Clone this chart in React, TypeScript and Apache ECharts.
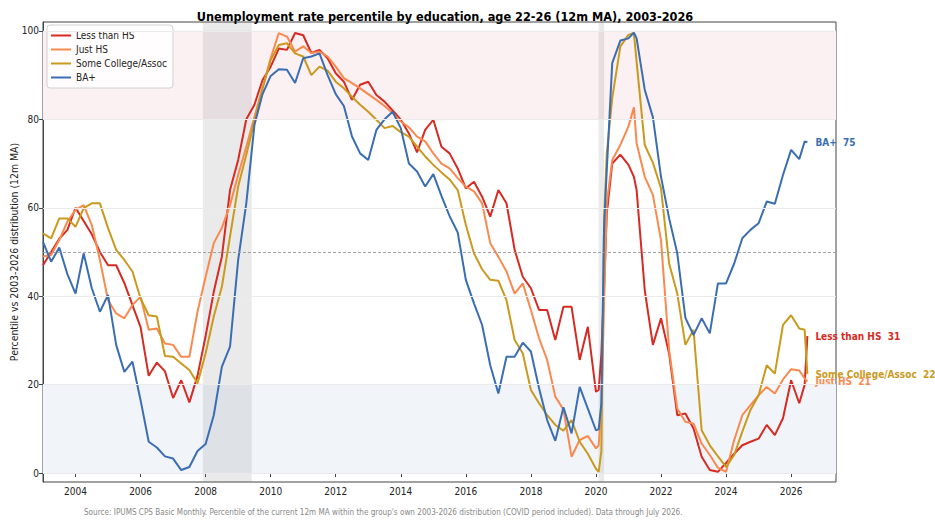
import React, { useEffect, useRef } from "react";
import * as echarts from "echarts";

// ---- data ----
const dates = [
  "2003-01","2003-04","2003-07","2003-10",
  "2004-01","2004-04","2004-07","2004-10",
  "2005-01","2005-04","2005-07","2005-10",
  "2006-01","2006-04","2006-07","2006-10",
  "2007-01","2007-04","2007-07","2007-10",
  "2008-01","2008-04","2008-07","2008-10",
  "2009-01","2009-04","2009-07","2009-10",
  "2010-01","2010-04","2010-07","2010-10",
  "2011-01","2011-04","2011-07","2011-10",
  "2012-01","2012-04","2012-07","2012-10",
  "2013-01","2013-04","2013-07","2013-10",
  "2014-01","2014-04","2014-07","2014-10",
  "2015-01","2015-04","2015-07","2015-10",
  "2016-01","2016-04","2016-07","2016-10",
  "2017-01","2017-04","2017-07","2017-10",
  "2018-01","2018-04","2018-07","2018-10",
  "2019-01","2019-04","2019-07","2019-10",
  "2020-01","2020-02","2020-03","2020-04","2020-05","2020-07","2020-10",
  "2021-01","2021-03","2021-04","2021-07","2021-10",
  "2022-01","2022-04","2022-07","2022-10",
  "2023-01","2023-04","2023-07","2023-10",
  "2024-01","2024-04","2024-07","2024-10",
  "2025-01","2025-04","2025-07","2025-10",
  "2026-01","2026-04","2026-06","2026-07",
];

const lessThanHS = [
  47, 50, 53, 55,
  60, 57, 54, 50,
  47, 47, 43, 38,
  33, 22, 25, 23,
  17, 21, 16, 22,
  31, 41, 49, 64,
  70.8, 80, 83.3, 88.9,
  91.9, 96, 95.7, 99.5,
  99, 95, 95.7, 93.8,
  90.4, 88.5, 84.4, 87.8,
  88.5, 85.5, 84, 82,
  79.9, 76.8, 72.5, 77.6,
  79.9, 73.8, 72.3, 68.9,
  64.4, 65.9, 62.5, 58,
  64, 61, 50.5, 44.4,
  41.8, 36.9, 36.9, 30.1,
  37.6, 37.6, 25.6, 33.1,
  18.4, 18.8, 27, 42, 58.7, 70, 72,
  69.7, 67, 64, 41.4, 29,
  35, 27, 13.1, 13.5,
  10.1, 3.7, 0.7, 0.3,
  2.3, 4.4, 6.3, 7.1,
  7.8, 10.9, 8.6, 12.4,
  21, 15.8, 20, 31,
];

const justHS = [
  49, 49.3, 52.7, 56.9,
  59.5, 60.6, 56.1, 48.2,
  39.1, 36.1, 35, 38,
  39.9, 32.4, 32.7, 29.3,
  29, 26.3, 26.3, 36.5,
  44.4, 52, 55.5, 60.6,
  67.4, 73.8, 80.6, 87,
  93.8, 99.5, 98.7, 95.3,
  96.5, 95, 95.3, 94.2,
  91.9, 89.3, 88.2, 87,
  85.7, 84.4, 83, 81.4,
  79.5, 78.2, 76.1, 75,
  72.3, 70, 68.9, 66.7,
  64.8, 63.7, 61, 52,
  48.9, 45.6, 40.6, 42.9,
  36.9, 30.5, 25.6, 17.3,
  14.4, 3.7, 7.5, 8.4,
  5.6, 6.3, 15, 38.4, 61, 70.8, 74.2,
  78.4, 82.7, 74.6, 67, 62.9,
  52.7, 27.8, 14.6, 11.6,
  11.2, 6.7, 4.1, 1.2,
  0.3, 7.5, 13.1, 15.4,
  17.6, 19.5, 18, 21.2,
  23.5, 23.2, 21.4, 20.7,
];

const someCollege = [
  54.2, 53.1, 57.6, 57.6,
  55.7, 59.9, 61, 61,
  55.4, 50.5, 48.2, 45.6,
  39.5, 35.7, 35.4, 26.5,
  26.3, 24.8, 23.3, 20.3,
  27.1, 35.4, 42.2, 53.5,
  64.8, 72, 79.5, 87,
  93.4, 96.8, 97.2, 94.9,
  94.2, 90, 91.9, 91,
  88.5, 87, 85.1, 83.3,
  81.7, 79.9, 78, 78.5,
  77.1, 76.1, 73.8, 71.6,
  69.7, 68, 66.4, 64,
  56.1, 49.7, 46.1, 43.7,
  43.5, 39.1, 30.1, 27.1,
  18.8, 15.8, 13.1, 10.9,
  9.6, 12, 7.1, 4.4,
  1, 0.3, 5, 57.2, 72.3, 84.8, 96.5,
  99.1, 99.5, 93, 74.2, 70.2,
  64.4, 47.4, 40.6, 29,
  32.4, 9.7, 6.3, 3.8,
  1.4, 4.1, 9.4, 14.3,
  17.6, 24.4, 22.5, 33.5,
  35.7, 32.7, 32.4, 22.4,
];

const baPlus = [
  52.3, 47.8, 51, 45,
  40.6, 49.7, 41.8, 36.5,
  40.3, 29, 22.9, 25.2,
  16.5, 7.1, 5.8, 3.8,
  3.3, 0.7, 1.4, 5,
  6.6, 13.1, 24.1, 28.6,
  48.2, 61, 78.7, 85.7,
  89.8, 91.3, 91.2, 88.2,
  93.8, 94.2, 94.9, 90,
  85.7, 83, 76.1, 72.3,
  70.8, 77.6, 80, 81.7,
  78, 70, 68.2, 64.8,
  67.6, 62.7, 58.1, 54.4,
  43.7, 38.4, 33.5, 24.4,
  18, 26.3, 26.3, 29.5,
  27.5, 19.2, 12, 7.3,
  14.9, 9, 19.5, 14.6,
  9.7, 9.9, 15.8, 55.7, 68.6, 92.7, 97.8,
  98.3, 99.6, 98.3, 86.7, 80.5,
  67, 57.6, 49.7, 35.1,
  31.2, 35, 31.6, 42.9,
  42.9, 47.4, 53.1, 55,
  56.5, 61.4, 60.9, 67.4,
  73.1, 71, 75, 74.8,
];

const seriesNames = ["Less than HS", "Just HS", "Some College/Assoc", "BA+"];
const recessions = [["2007-12", "2009-06"], ["2020-02", "2020-04"]];
const xTicks = [2004, 2006, 2008, 2010, 2012, 2014, 2016, 2018, 2020, 2022, 2024, 2026];
const yTicks = [0, 20, 40, 60, 80, 100];
const highBand = [80, 100];
const lowBand = [0, 20];
const midLine = 50;

const colors = ["#d62a22", "#f98a4f", "#c99a1e", "#3b6db3"];
const FONT = "'DejaVu Sans Condensed', 'DejaVu Sans', sans-serif";

const toYear = (d: string) => {
  const [y, m] = d.split("-").map(Number);
  return y + (m - 1) / 12;
};
const xs = dates.map(toYear);
const pairs = (vals: number[]) => xs.map((x, i) => [x, vals[i]]);

export default function App() {
  const ref = useRef<HTMLDivElement>(null);
  useEffect(() => {
    if (!ref.current) return;
    const chart = echarts.init(ref.current, undefined, { renderer: "svg" });
    const allVals = [lessThanHS, justHS, someCollege, baPlus];

    const lineSeries = seriesNames.map((name, i) => ({
      name,
      type: "line",
      data: pairs(allVals[i]),
      showSymbol: false,
      symbol: "none",
      z: 3,
      lineStyle: { width: 2, color: colors[i] },
      itemStyle: { color: colors[i] },
      endLabel: {
        show: true,
        distance: 8,
        color: colors[i],
        fontWeight: "bold",
        fontSize: 10,
        lineHeight: 7,
        fontFamily: FONT,
        formatter: (p: any) => `${p.seriesName}  ${Math.round(p.value[1])}`,
      },
    }));

    const option = {
      animation: false,
      textStyle: { fontFamily: FONT },
      title: {
        text: "Unemployment rate percentile by education, age 22-26 (12m MA), 2003-2026",
        left: 440,
        textAlign: "center",
        top: 5,
        textStyle: { fontSize: 12.6, fontWeight: "bold", color: "#000", fontFamily: FONT },
      },
      legend: {
        data: seriesNames,
        orient: "vertical",
        left: 47,
        top: 25,
        icon: "rect",
        itemWidth: 20,
        itemHeight: 2,
        itemGap: 1,
        padding: [4, 6, 4, 4],
        backgroundColor: "rgba(255,255,255,0.85)",
        borderColor: "#d0d0d0",
        borderWidth: 1,
        borderRadius: 3,
        textStyle: { fontSize: 10, lineHeight: 13, color: "#222", fontFamily: FONT },
      },
      grid: {
        left: 43,
        right: 99,
        top: 22,
        bottom: 44,
        containLabel: false,
        outerBoundsMode: "none",
        show: true,
        borderColor: "#444",
        borderWidth: 1,
        backgroundColor: "transparent",
      },
      xAxis: {
        type: "value",
        min: 2003,
        max: 2027.38,
        axisLine: { show: true, lineStyle: { color: "#444" } },
        axisTick: { show: true, customValues: xTicks, length: 4, lineStyle: { color: "#444" } },
        axisLabel: {
          customValues: xTicks,
          formatter: (v: number) => String(v),
          fontSize: 10,
          color: "#222",
          margin: 4,
          fontFamily: FONT,
        },
        splitLine: { show: false },
      },
      yAxis: {
        type: "value",
        min: -2,
        max: 102,
        name: "Percentile vs 2003-2026 distribution (12m MA)",
        nameLocation: "middle",
        nameGap: 24,
        nameMoveOverlap: false,
        nameTextStyle: { fontSize: 10.4, color: "#222", fontFamily: FONT },
        axisLine: { show: true, lineStyle: { color: "#444" } },
        axisTick: { show: true, customValues: yTicks, length: 4, lineStyle: { color: "#444" } },
        axisLabel: { customValues: yTicks, fontSize: 10, color: "#222", margin: 4, fontFamily: FONT },
        splitLine: { show: false },
      },
      graphic: [
        {
          type: "text",
          left: 84,
          top: 508,
          silent: true,
          style: {
            text: "Source: IPUMS CPS Basic Monthly. Percentile of the current 12m MA within the group's own 2003-2026 distribution (COVID period included). Data through July 2026.",
            fontSize: 8.1,
            fill: "#888",
            fontFamily: FONT,
          },
        },
      ],
      series: [
        {
          name: "bg",
          type: "line",
          data: [],
          silent: true,
          z: 1,
          markArea: {
            silent: true,
            data: [
              [{ yAxis: highBand[0], itemStyle: { color: "#fbf0f2" } }, { yAxis: highBand[1] }],
              [{ yAxis: lowBand[0], itemStyle: { color: "#f1f5f9" } }, { yAxis: lowBand[1] }],
              ...recessions.map(([a, b]) => [
                { xAxis: toYear(a), itemStyle: { color: "rgba(130,130,135,0.17)" } },
                { xAxis: toYear(b) },
              ]),
            ],
          },
          markLine: {
            silent: true,
            symbol: "none",
            label: { show: false },
            data: [
              ...yTicks.map((v) => ({ yAxis: v, lineStyle: { color: "#ebebeb", width: 1, type: "solid" } })),
              { yAxis: midLine, lineStyle: { color: "#9a9a9a", width: 0.9, type: [3, 2] } },
            ],
          },
        },
        ...lineSeries,
      ],
    };
    chart.setOption(option as any);
    return () => chart.dispose();
  }, []);
  return (
    <div
      ref={ref}
      style={{ position: "fixed", left: 0, top: 0, width: 935, height: 526, background: "#fff" }}
    />
  );
}
